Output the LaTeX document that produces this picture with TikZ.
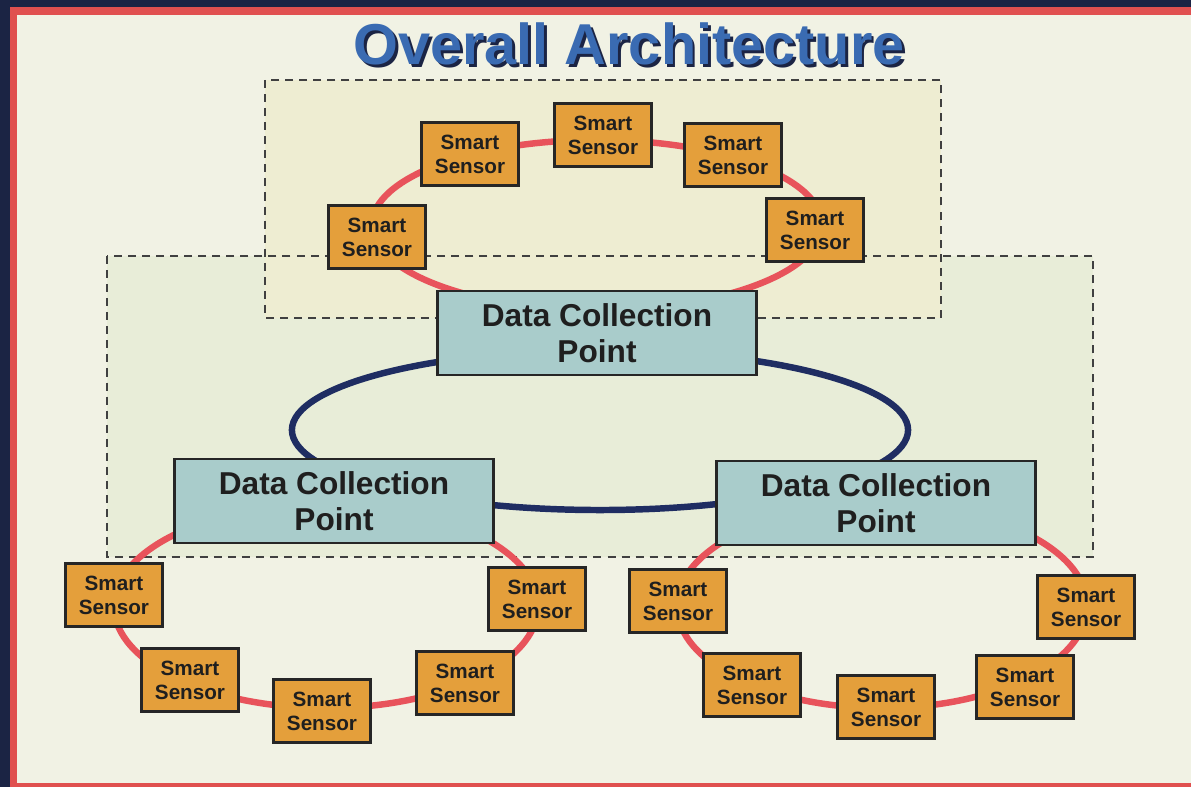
\documentclass[tikz,border=0pt]{standalone}
\usepackage{fontspec}
\setmainfont{Liberation Sans}
\usepackage{xcolor}
\usetikzlibrary{positioning}

\definecolor{navyedge}{HTML}{1B2444}
\definecolor{framered}{HTML}{E0504F}
\definecolor{paper}{HTML}{F1F2E4}
\definecolor{topzonefill}{HTML}{EEEDD2}
\definecolor{bigzonefill}{HTML}{E8EDD8}
\definecolor{sensorfill}{HTML}{E49F3B}
\definecolor{dcpfill}{HTML}{A9CCCB}
\definecolor{ringred}{HTML}{E8535B}
\definecolor{linkblue}{HTML}{1F2D62}
\definecolor{titleblue}{HTML}{3A6BB2}

\begin{document}
\begin{tikzpicture}[x=0.025cm, y=-0.025cm,
          every node/.style={font=\bfseries, text=black!88},
          sensor/.style={draw=black!85, fill=sensorfill, line width=1.7pt, minimum width=2.425cm, minimum height=1.575cm, inner sep=0pt, align=center, font=\fontsize{14.7}{17}\selectfont\bfseries},
          dcp/.style={draw=black!85, fill=dcpfill, line width=1.7pt, minimum width=7.975cm, minimum height=2.1cm, inner sep=0pt, align=center, font=\fontsize{22.5}{25.6}\selectfont\bfseries},
          ring/.style={draw=ringred, line width=4.6pt},
          link/.style={draw=linkblue, line width=4.6pt},
          zone/.style={draw=black!75, line width=1.4pt, dash pattern=on 5.7pt off 4.3pt}
      ]
        \useasboundingbox (0,0) rectangle (1191,787);

        % frame
        \fill[navyedge] (0,0) rectangle (1191,787);
        \fill[framered] (10,7) rectangle (1191,787);
        \fill[paper] (17,15) rectangle (1191,783);

        % title, with its shadow
        \node[text=titleblue, font=\fontsize{41}{45}\selectfont\bfseries] (title) at (629,45)
          {\makebox[0pt][l]{\hspace{2.1pt}\raisebox{-2.1pt}{\textcolor{navyedge}{Overall Architecture}}}Overall Architecture};

        % zones
        \fill[bigzonefill] (107,256) rectangle (1093,557);
        \fill[topzonefill] (265,80) rectangle (941,318);
        \draw[zone] (107,256) rectangle (1093,557);
        \draw[zone] (265,80) rectangle (941,318);

        % rings
        \coordinate (topring) at (597,225);
        \coordinate (leftring) at (326,606);
        \coordinate (rightring) at (882,606);
        \coordinate (dcpring) at (600,430);

        \draw[link] (dcpring) ellipse (7.7cm and 2cm);
        \draw[ring] (topring) ellipse (5.625cm and 2.125cm);
        \draw[ring] (leftring) ellipse (5.3cm and 2.55cm);
        \draw[ring] (rightring) ellipse (5.125cm and 2.55cm);

        % data collection points
        \node[dcp] (dcpT) at (597,333) {Data Collection\\Point};
        \node[dcp] (dcpL) at (334,501) {Data Collection\\Point};
        \node[dcp] (dcpR) at (876,503) {Data Collection\\Point};

        % top sensors
        \node[sensor] (t1) at (377,237) {Smart\\Sensor};
        \node[sensor] (t2) at (470,154) {Smart\\Sensor};
        \node[sensor] (t3) at (603,135) {Smart\\Sensor};
        \node[sensor] (t4) at (733,155) {Smart\\Sensor};
        \node[sensor] (t5) at (815,230) {Smart\\Sensor};

        % left sensors
        \node[sensor] (l1) at (114,595) {Smart\\Sensor};
        \node[sensor] (l2) at (190,680) {Smart\\Sensor};
        \node[sensor] (l3) at (322,711) {Smart\\Sensor};
        \node[sensor] (l4) at (465,683) {Smart\\Sensor};
        \node[sensor] (l5) at (537,599) {Smart\\Sensor};

        % right sensors
        \node[sensor] (r1) at (678,601) {Smart\\Sensor};
        \node[sensor] (r2) at (752,685) {Smart\\Sensor};
        \node[sensor] (r3) at (886,707) {Smart\\Sensor};
        \node[sensor] (r4) at (1025,687) {Smart\\Sensor};
        \node[sensor] (r5) at (1086,607) {Smart\\Sensor};
      \end{tikzpicture}
\end{document}
